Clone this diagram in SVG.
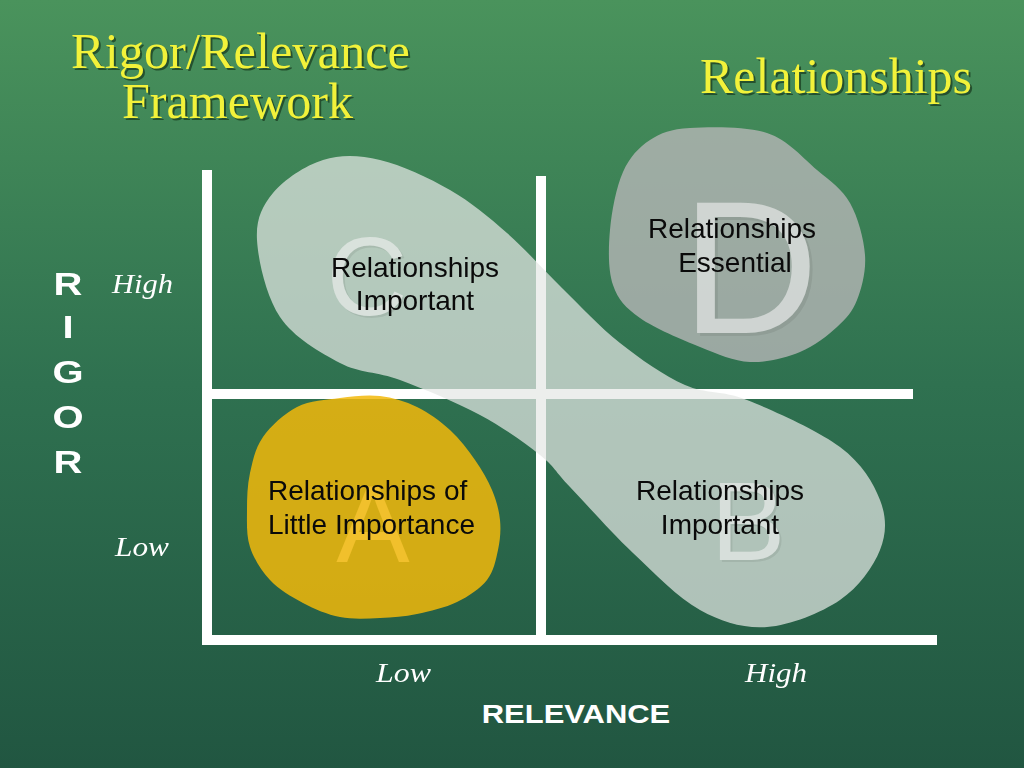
<svg xmlns="http://www.w3.org/2000/svg" width="1024" height="768" viewBox="0 0 1024 768">
<defs>
<linearGradient id="bg" x1="0" y1="0" x2="0" y2="1">
<stop offset="0" stop-color="#4a935c"/>
<stop offset="0.5" stop-color="#2f7150"/>
<stop offset="1" stop-color="#215641"/>
</linearGradient>
<style>
.title{font-family:"Liberation Serif",serif;font-size:50px;fill:#f2f23a}
.tshadow{font-family:"Liberation Serif",serif;font-size:50px;fill:#143018;opacity:0.65}
.axis{font-family:"Liberation Serif",serif;font-size:28px;font-style:italic;fill:#ffffff}
.bold{font-family:"Liberation Sans",Arial,sans-serif;font-weight:bold;fill:#ffffff;text-anchor:middle}
.q{font-family:"Liberation Sans",Arial,sans-serif;font-size:28px;fill:#0a0a0a;text-anchor:middle}
.big{font-family:"Liberation Sans",Arial,sans-serif;fill:#f2f2f2;text-anchor:middle}
.bigs{font-family:"Liberation Sans",Arial,sans-serif;fill:#000000;opacity:0.12;text-anchor:middle}
.line{fill:#ffffff}
</style>
</defs>
<rect width="1024" height="768" fill="url(#bg)"/>

<g id="grid">
<rect class="line" x="202" y="170" width="10" height="475"/>
<rect class="line" x="202" y="635" width="735" height="10"/>
<rect class="line" x="536" y="176" width="10" height="460"/>
<rect class="line" x="212" y="389" width="701" height="10"/>
</g>

<g id="letter-a">
<text class="big" x="373" y="562" font-size="110" style="fill:#e6e6e6">A</text>
</g>

<g id="blob-cb">
<path fill="#e4e7e4" fill-opacity="0.72" d="M273,193 C284,179.7 305.2,165.5 323,160 C340.8,154.5 358.8,155 380,160 C401.2,165 428.8,177.8 450,190 C471.2,202.2 488.3,216.7 507,233 C525.7,249.3 543.2,269.7 562,288 C580.8,306.3 599.5,326.8 620,343 C640.5,359.2 663.8,375.5 685,385 C706.2,394.5 721.2,389.7 747,400 C772.8,410.3 817.8,430.3 840,447 C862.2,463.7 873.3,482.8 880,500 C886.7,517.2 886.7,533.3 880,550 C873.3,566.7 858.8,587.2 840,600 C821.2,612.8 790.3,625.3 767,627 C743.7,628.7 722.3,622.3 700,610 C677.7,597.7 654.7,573.5 633,553 C611.3,532.5 585.5,503.3 570,487 C554.5,470.7 555,467 540,455 C525,443 503.3,427.5 480,415 C456.7,402.5 423.3,388.7 400,380 C376.7,371.3 360,373.5 340,363 C320,352.5 293.8,337.5 280,317 C266.2,296.5 258.2,260.7 257,240 C255.8,219.3 262,206.3 273,193 Z"/>
</g>

<g id="blob-d">
<path fill="#b9b7b9" fill-opacity="0.78" d="M690,128 C709.5,126.8 745.8,126 767,133 C788.2,140 803.2,158.3 817,170 C830.8,181.7 842,188.8 850,203 C858,217.2 863.8,238.8 865,255 C866.2,271.2 861.7,288 857,300 C852.3,312 846.5,318.3 837,327 C827.5,335.7 814.5,346.2 800,352 C785.5,357.8 766.7,362.8 750,362 C733.3,361.2 718.3,354.3 700,347 C681.7,339.7 654.5,328.3 640,318 C625.5,307.7 618,299.7 613,285 C608,270.3 608.3,248.8 610,230 C611.7,211.2 616.3,187 623,172 C629.7,157 638.8,147.3 650,140 C661.2,132.7 670.5,129.2 690,128 Z"/>
</g>

<g id="blob-a">
<path fill="#f2b90b" fill-opacity="0.85" d="M340,398 C353.8,396.2 367.2,394.5 380,396 C392.8,397.5 405.3,401.3 417,407 C428.7,412.7 440.3,421.2 450,430 C459.7,438.8 468,450 475,460 C482,470 487.8,480 492,490 C496.2,500 499,510 500,520 C501,530 500.2,540 498,550 C495.8,560 493.8,571.3 487,580 C480.2,588.7 468.7,596.3 457,602 C445.3,607.7 429.8,611.3 417,614 C404.2,616.7 392.8,617.5 380,618 C367.2,618.5 352.8,619.5 340,617 C327.2,614.5 314.7,609.2 303,603 C291.3,596.8 278.8,589.3 270,580 C261.2,570.7 253.8,558.7 250,547 C246.2,535.3 247,522.3 247,510 C247,497.7 247.3,485.2 250,473 C252.7,460.8 255.2,448 263,437 C270.8,426 284.2,413.5 297,407 C309.8,400.5 326.2,399.8 340,398 Z"/>
</g>

<g id="letters" opacity="0.6">
<text class="bigs" x="369" y="317" font-size="112">C</text>
<text class="big" x="367" y="315" font-size="112">C</text>
<text class="bigs" x="753" y="336" font-size="190">D</text>
<text class="big" x="750" y="333" font-size="190">D</text>
<text class="bigs" x="750" y="562" font-size="112">B</text>
<text class="big" x="748" y="560" font-size="112">B</text>
</g>

<g id="quadrant-c">
<text class="q" x="415" y="277">Relationships</text>
<text class="q" x="415" y="310">Important</text>
</g>
<g id="quadrant-d">
<text class="q" x="732" y="238">Relationships</text>
<text class="q" x="735" y="272">Essential</text>
</g>
<g id="quadrant-a">
<text class="q" x="268" y="500" style="text-anchor:start">Relationships of</text>
<text class="q" x="268" y="534" style="text-anchor:start">Little Importance</text>
</g>
<g id="quadrant-b">
<text class="q" x="720" y="500">Relationships</text>
<text class="q" x="720" y="534">Important</text>
</g>

<g id="titles">
<text class="tshadow" x="73" y="70" textLength="339" lengthAdjust="spacingAndGlyphs">Rigor/Relevance</text>
<text class="title" x="71" y="68" textLength="339" lengthAdjust="spacingAndGlyphs">Rigor/Relevance</text>
<text class="tshadow" x="124" y="120" textLength="231" lengthAdjust="spacingAndGlyphs">Framework</text>
<text class="title" x="122" y="118" textLength="231" lengthAdjust="spacingAndGlyphs">Framework</text>
<text class="tshadow" x="702" y="95" textLength="272" lengthAdjust="spacingAndGlyphs">Relationships</text>
<text class="title" x="700" y="93" textLength="272" lengthAdjust="spacingAndGlyphs">Relationships</text>
</g>

<g id="rigor-axis">
<g transform="translate(68 0) scale(1.25 1)">
<text class="bold" x="0" y="295" font-size="32">R</text>
<text class="bold" x="0" y="338" font-size="32">I</text>
<text class="bold" x="0" y="383" font-size="32">G</text>
<text class="bold" x="0" y="428" font-size="32">O</text>
<text class="bold" x="0" y="473" font-size="32">R</text>
</g>
<text class="axis" x="112" y="293" textLength="61" lengthAdjust="spacingAndGlyphs">High</text>
<text class="axis" x="115" y="556" textLength="54" lengthAdjust="spacingAndGlyphs">Low</text>
</g>

<g id="relevance-axis">
<text class="axis" x="376" y="682" textLength="55" lengthAdjust="spacingAndGlyphs">Low</text>
<text class="axis" x="745" y="682" textLength="62" lengthAdjust="spacingAndGlyphs">High</text>
<g transform="translate(576 0) scale(1.19 1)">
<text class="bold" x="0" y="723" font-size="26">RELEVANCE</text>
</g>
</g>
</svg>
